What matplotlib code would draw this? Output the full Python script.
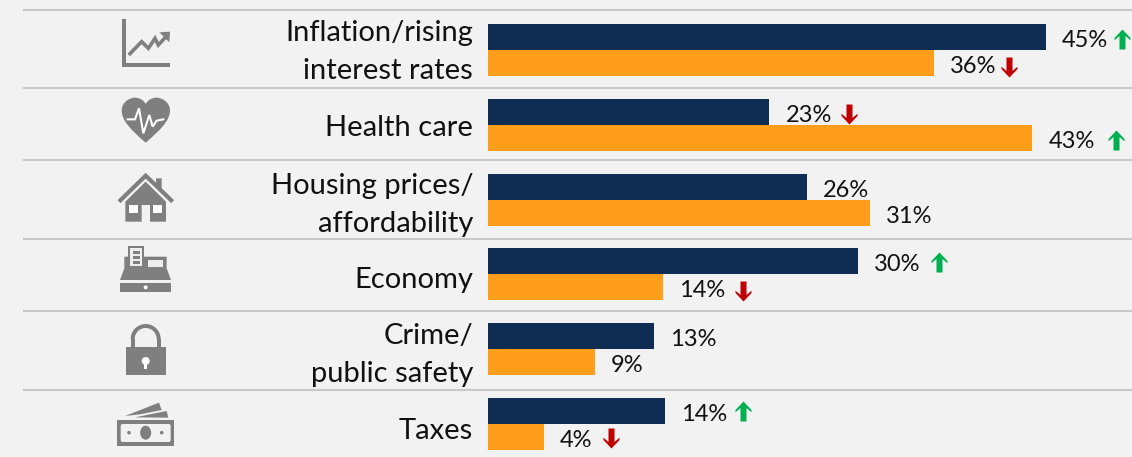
import numpy as np
import matplotlib
matplotlib.use("Agg")
import matplotlib.pyplot as plt
from matplotlib.path import Path
from matplotlib.patches import Polygon, Rectangle, Circle, Ellipse, PathPatch, Wedge, FancyBboxPatch

W, H = 1132, 457
BG = "#f2f2f2"
NAVY = "#0f2d52"
ORANGE = "#ff9e1b"
ICON = "#7f7f7f"
RULE = "#c9c9c9"
GREEN = "#00b050"
RED = "#c00000"

categories = ["Inflation/rising\ninterest rates", "Health care", "Housing prices/\naffordability",
              "Economy", "Crime/\npublic safety", "Taxes"]
navy_values = [45.0, 22.7, 25.7, 29.8, 13.4, 14.3]
orange_values = [36.0, 43.9, 30.8, 14.1, 8.6, 4.5]
navy_labels = ["45%", "23%", "26%", "30%", "13%", "14%"]
orange_labels = ["36%", "43%", "31%", "14%", "9%", "4%"]
navy_trend = [1, -1, 0, 1, 0, 1]
orange_trend = [-1, 1, 0, -1, 0, -1]

# layout, all in reference pixels
PX_PER_PCT = 12.4
ZERO_PX = 488
ROW_PX = 74.8
FIRST_ROW_PX = 50
BAR_OFF = 13 / ROW_PX
LABEL_FS = 17
rule_px = [9.5, 87.5, 160, 239, 311, 390]
label_shift_px = [2, 3, 5, 6, 6, 7]
navy_arrow_off = [76, 80, 0, 81, 0, 78]
orange_arrow_off = [75, 84, 0, 80, 0, 67]
navy_arrow_dy = [2, 2, 0, 1, 0, 0]
orange_arrow_dy = [4, 2, 0, 4, 0, 1]

plt.rcParams['font.family'] = ['Lato', 'DejaVu Sans']

fig = plt.figure(figsize=(W / 100, H / 100), dpi=100, facecolor=BG)
ax = fig.add_axes([0, 0, 1, 1])
ax.set_xlim(-ZERO_PX / PX_PER_PCT, (W - ZERO_PX) / PX_PER_PCT)
ax.set_ylim((H - FIRST_ROW_PX) / ROW_PX, -FIRST_ROW_PX / ROW_PX)
ax.axis("off")

# overlay in pixel coords for icons and rules
ov = fig.add_axes([0, 0, 1, 1], zorder=0)
ov.set_xlim(0, W)
ov.set_ylim(H, 0)
ov.axis("off")
ov.patch.set_alpha(0)
ax.set_zorder(1)

for y in rule_px:
    ov.plot([23, W], [y, y], color=RULE, lw=1.5, solid_capstyle="butt")

y_pos = np.arange(len(categories))
ax.barh(y_pos - BAR_OFF, navy_values, height=2 * BAR_OFF, color=NAVY)
ax.barh(y_pos + BAR_OFF, orange_values, height=2 * BAR_OFF, color=ORANGE)

up_arrow = Path([(0, 1), (0.8, 0.15), (0.8, -0.08), (0.3, 0.35), (0.3, -1), (-0.3, -1), (-0.3, 0.35),
                 (-0.8, -0.08), (-0.8, 0.15), (0, 1)], closed=True)
down_arrow = Path(-up_arrow.vertices, closed=True)


def put_values(values, labels, trend, offs, dys, y_values):
    for v, lab, t, off, dy, y in zip(values, labels, trend, offs, dys, y_values):
        ax.annotate(lab, (v, y), xytext=(16 * 0.72, -3.5 * 0.72), textcoords="offset points", va="center", ha="left",
                    fontsize=LABEL_FS, color="#111111")
        if t:
            ax.plot(v + off / PX_PER_PCT, y + dy / ROW_PX, marker=up_arrow if t > 0 else down_arrow, ms=14.4, mew=0,
                    color=GREEN if t > 0 else RED, ls="none")


put_values(navy_values, navy_labels, navy_trend, navy_arrow_off, navy_arrow_dy, y_pos - BAR_OFF)
put_values(orange_values, orange_labels, orange_trend, orange_arrow_off, orange_arrow_dy, y_pos + BAR_OFF)

for i, cat in enumerate(categories):
    ax.annotate(cat, (0, i), xytext=(-15 * 0.72, -label_shift_px[i] * 0.72), textcoords="offset points",
                ha="right", va="center", multialignment="right", fontsize=21, linespacing=1.58, color="#111111")


def zx(v, ox=90):
    return ox + v / 3


def pts(seq, oy=0):
    return [(zx(a), oy + b / 3) for a, b in seq]


def poly(seq, oy=0, color=ICON):
    ov.add_patch(Polygon(pts(seq, oy), closed=True, color=color, lw=0))


def rect(x0, y0, x1, y1, oy=0, color=ICON):
    ov.add_patch(Rectangle((zx(x0), oy + y0 / 3), (x1 - x0) / 3, (y1 - y0) / 3, color=color, lw=0))


# line chart
rect(95, 58, 107, 202)
rect(95, 190, 240, 202)
zig = pts([(120, 161), (155, 125), (175, 145), (195, 115), (205, 135), (228, 110)])
ov.plot(*zip(*zig), color=ICON, lw=2.6, solid_joinstyle="miter")
poly([(208, 97), (240, 95), (238, 127)])

# heart
h = [(167, 428), (125, 392), (95, 362), (95, 332), (95, 305), (120, 293), (135, 293),
     (150, 293), (162, 302), (167, 312), (172, 302), (184, 293), (199, 293),
     (214, 293), (240, 305), (240, 332), (240, 362), (209, 392), (167, 428)]
codes = [Path.MOVETO] + [Path.CURVE4] * (len(h) - 1)
ov.add_patch(PathPatch(Path(pts(h), codes), color=ICON, lw=0))
pulse = pts([(113, 358), (135, 358), (147, 325), (160, 400), (178, 345), (188, 380), (200, 362), (220, 358)])
ov.plot(*zip(*pulse), color="white", lw=1.5, solid_joinstyle="miter")

# house
roof = pts([(87, 605), (167, 527), (248, 605)])
ov.plot(*zip(*roof), color=ICON, lw=3, solid_joinstyle="miter", solid_capstyle="butt")
poly([(198, 535), (215, 535), (215, 575), (198, 560)])
poly([(106, 605), (167, 545), (228, 605), (228, 665), (180, 665), (180, 615), (155, 615), (155, 665), (106, 665)])
rect(118, 615, 143, 640, color="white")
rect(190, 615, 216, 640, color="white")

# cash register
o = 230
poly([(103, 80), (230, 80), (230, 115), (243, 150), (90, 150), (103, 115)], o)
rect(113, 48, 163, 112, o)
rect(120, 55, 157, 107, o, color="#eeeeee")
for a, b in [(63, 72), (78, 87), (92, 101)]:
    rect(129, a, 150, b, o)
rect(175, 90, 220, 110, o, color="#eeeeee")
rect(90, 158, 243, 185, o)
ov.add_patch(Circle((zx(167), o + 172 / 3), 2, color="white", lw=0))

# lock
rect(107, 350, 227, 435, o)
ov.add_patch(Wedge((zx(167), o + 327 / 3), 15, 180, 360, width=4, color=ICON, lw=0))
rect(122, 327, 134, 352, o)
rect(200, 327, 212, 352, o)
ov.add_patch(Circle((zx(167), o + 393 / 3), 4, color="white", lw=0))
rect(163, 393, 171, 416, o, color="white")

# money
rect(80, 570, 253, 648, o)
ov.add_patch(FancyBboxPatch((zx(92) + 2, o + 582 / 3 + 2), 150 / 3 - 4, 54 / 3 - 4, boxstyle="round,pad=2",
                            color=BG, lw=0))
ov.add_patch(Ellipse((zx(167), o + 608 / 3), 11, 14, color=ICON, lw=0))
ov.add_patch(Circle((zx(117), o + 608 / 3), 1.8, color=ICON, lw=0))
ov.add_patch(Circle((zx(215), o + 608 / 3), 1.8, color=ICON, lw=0))
poly([(105, 558), (207, 518), (215, 540), (150, 553)], o)
poly([(135, 562), (230, 543), (235, 563)], o)

fig.savefig("out.png", dpi=100, facecolor=BG)
